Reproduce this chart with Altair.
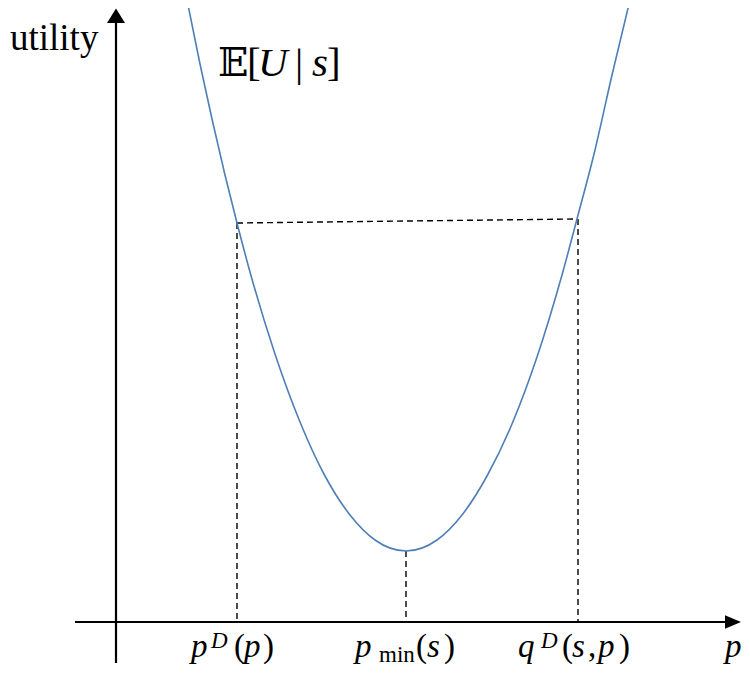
import altair as alt
import pandas as pd

# ---- data (p = horizontal position, u = utility) ----
curve_p = [71, 84, 96, 109, 121, 134, 159, 184, 209, 234, 259, 290,
           321, 346, 371, 396, 421, 446, 461, 479, 496, 514]
curve_u = [622, 558, 503, 447, 399, 350, 268, 200, 146, 107, 82, 71,
           82, 107, 146, 198, 265, 347, 403, 472, 547, 622]

# dashed guide segments
dash_x = [121, 121, 290, 462]
dash_x2 = [461, 121, 290, 462]
dash_y = [399, 399, 71, 403]
dash_y2 = [403, 0, 0, 0]

# axis lines
axis_x = [-41, 0]
axis_x2 = [618, 0]
axis_y = [0, -41]
axis_y2 = [0, 605]

# label pieces ("i" = italic, "n" = upright, "bb" = blackboard bold)
lab_text = ["utility", "𝔼", "[", "U", "|", "s", "]",
            "p", "D", "(", "p", ")",
            "p", "min", "(", "s", ")",
            "q", "D", "(", "s", ",", "p", ")",
            "p"]
lab_x = [-106, 102, 131, 142, 179, 196, 211,
         75, 95, 118, 128, 147,
         239, 263, 300, 311, 328,
         402, 425, 446, 456, 472, 482, 503,
         609]
lab_y = [572, 546, 546, 546, 546, 546, 546,
         -35, -26, -35, -35, -35,
         -35, -40, -35, -35, -35,
         -35, -26, -35, -35, -35, -35, -35,
         -35]
lab_size = [37, 40, 41, 41, 41, 41, 41,
            33, 23, 33, 33, 33,
            33, 23, 33, 33, 33,
            33, 23, 33, 33, 33, 33, 33,
            33]
lab_style = ["n", "bb", "n", "i", "n", "i", "n",
             "i", "i", "n", "i", "n",
             "i", "n", "n", "i", "n",
             "i", "i", "n", "i", "n", "i", "n",
             "i"]

curve_df = pd.DataFrame({"p": curve_p, "u": curve_u})
dash_df = pd.DataFrame({"x": dash_x, "x2": dash_x2, "y": dash_y, "y2": dash_y2})
axis_df = pd.DataFrame({"x": axis_x, "x2": axis_x2, "y": axis_y, "y2": axis_y2})
lab_df = pd.DataFrame({"t": lab_text, "x": lab_x, "y": lab_y, "s": lab_size, "st": lab_style})
arrow_up_df = pd.DataFrame({"x": [0], "y": [608]})
arrow_right_df = pd.DataFrame({"x": [617], "y": [0]})

xs = alt.Scale(domain=[-108, 626], nice=False, zero=False)
ys = alt.Scale(domain=[-44, 614], nice=False, zero=False)

def X(f):
    return alt.X(f, type="quantitative", scale=xs, axis=None)

def Y(f):
    return alt.Y(f, type="quantitative", scale=ys, axis=None)

axes = alt.Chart(axis_df).mark_rule(color="black", strokeWidth=2.2).encode(
    x=X("x"), x2="x2", y=Y("y"), y2="y2")

arrow_up = alt.Chart(arrow_up_df).mark_point(
    shape="M0,-0.6L1,1L-1,1Z", size=324, filled=True, color="black", opacity=1
).encode(x=X("x"), y=Y("y"))

arrow_right = alt.Chart(arrow_right_df).mark_point(
    shape="M1,0L-1,-0.85L-1,0.85Z", size=256, filled=True, color="black", opacity=1
).encode(x=X("x"), y=Y("y"))

dashes = alt.Chart(dash_df).mark_rule(color="black", strokeWidth=1.4, strokeDash=[6, 4]).encode(
    x=X("x"), x2="x2", y=Y("y"), y2="y2")

curve = alt.Chart(curve_df).mark_line(
    color="#4f7fb5", strokeWidth=1.6, interpolate="monotone", clip=True
).encode(x=X("p"), y=Y("u"))

fonts = {"n": ("Liberation Serif", "normal"),
         "i": ("Liberation Serif", "italic"),
         "bb": ("DejaVu Serif", "normal")}

text_layers = []
for (st, sz), sub in lab_df.groupby(["st", "s"]):
    font, fstyle = fonts[st]
    text_layers.append(
        alt.Chart(sub.reset_index(drop=True)).mark_text(
            align="left", baseline="alphabetic", font=font, fontStyle=fstyle,
            fontSize=int(sz), color="black"
        ).encode(x=X("x"), y=Y("y"), text="t:N")
    )

chart = alt.layer(dashes, curve, axes, arrow_up, arrow_right, *text_layers).properties(
    width=734, height=658,
    autosize=alt.AutoSizeParams(type="none"),
    padding=0,
    background="white",
).configure_view(stroke=None)

chart.save("out.html", embed_options={"renderer": "svg", "actions": False})
